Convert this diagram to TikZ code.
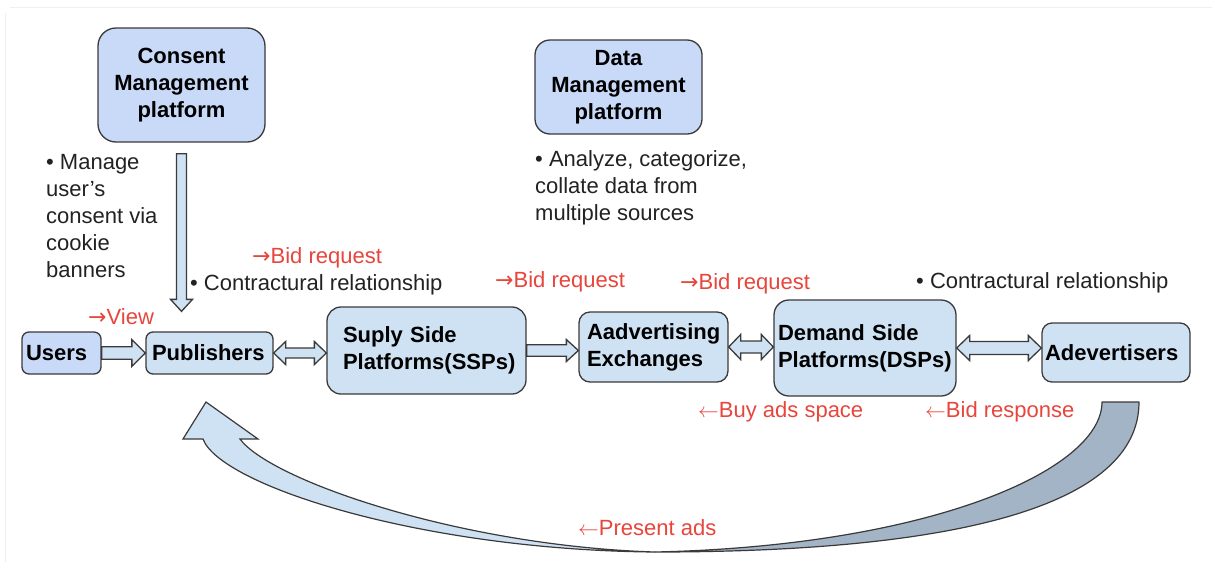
\documentclass[tikz,border=0pt]{standalone}
\usepackage{fontspec}
\setmainfont{Liberation Sans}
\newfontfamily\arrowfont{DejaVu Sans}
\usetikzlibrary{calc}

\definecolor{boxblue}{HTML}{C9DAF8}
\definecolor{paleblue}{HTML}{CFE2F3}
\definecolor{slateblue}{HTML}{A2B4C6}
\definecolor{edge}{HTML}{3A3A3A}
\definecolor{redtxt}{HTML}{E8453C}
\definecolor{ink}{HTML}{222222}
\definecolor{frameline}{HTML}{EFEFEF}

\newcommand\toR{{\arrowfont →}}
\newcommand\toL{$\leftarrow$}

\tikzset{
  box/.style={draw=edge, line width=1.3pt, text=black, align=left,
    font=\bfseries\fontsize{22}{27}\selectfont, inner ysep=0pt},
  blockarrow/.style={draw=edge, fill=paleblue, line width=1.3pt, line join=miter},
  note/.style={font=\fontsize{22}{27}\selectfont, text=ink, inner sep=0pt, align=left},
  redlbl/.style={font=\fontsize{22}{27}\selectfont, text=redtxt, inner sep=0pt},
  curvedark/.style={draw=edge, fill=slateblue, line width=1.2pt, line join=round},
  curvelight/.style={draw=edge, fill=paleblue, line width=1.2pt, line join=miter},
}

% horizontal single-headed block arrow: from, to, shaft half-height, head half-height, head length
\newcommand\blockR[5]{%
  \draw[blockarrow] let \p1=(#1), \p2=(#2) in
    (\x1,\y1+#3) -- (\x2-#5,\y1+#3) -- (\x2-#5,\y1+#4) -- (\x2,\y1)
    -- (\x2-#5,\y1-#4) -- (\x2-#5,\y1-#3) -- (\x1,\y1-#3) -- cycle;}
% horizontal double-headed block arrow
\newcommand\blockLR[5]{%
  \draw[blockarrow] let \p1=(#1), \p2=(#2) in
    (\x1,\y1) -- (\x1+#5,\y1+#4) -- (\x1+#5,\y1+#3) -- (\x2-#5,\y1+#3)
    -- (\x2-#5,\y1+#4) -- (\x2,\y1) -- (\x2-#5,\y1-#4) -- (\x2-#5,\y1-#3)
    -- (\x1+#5,\y1-#3) -- (\x1+#5,\y1-#4) -- cycle;}
% vertical downward block arrow
\newcommand\blockD[5]{%
  \draw[blockarrow] let \p1=(#1), \p2=(#2) in
    (\x1-#3,\y1) -- (\x1-#3,\y2+#5) -- (\x1-#4,\y2+#5) -- (\x1,\y2)
    -- (\x1+#4,\y2+#5) -- (\x1+#3,\y2+#5) -- (\x1+#3,\y1) -- cycle;}

\begin{document}
\begin{tikzpicture}[x=1pt,y=-1pt]
\useasboundingbox[fill=white] (0,0) rectangle (1215,568);
\draw[frameline, line width=1pt] (10,7) -- (1212,7);
\draw[frameline, line width=1pt] (5,13) -- (5,562);

% platforms on top
\node[box, fill=boxblue, rounded corners=18pt, minimum height=114pt,
      text width=155pt, inner xsep=6pt, align=center] (cmp) at (181.5,85)
      {Consent\\Management\\platform};
\node[box, fill=boxblue, rounded corners=15pt, minimum height=94pt,
      text width=155pt, inner xsep=6pt, align=center] (dmp) at (618.5,87)
      {Data\\Management\\platform};

% main chain
\node[box, fill=boxblue, rounded corners=7pt, minimum height=42pt,
      text width=71pt, inner xsep=4pt] (users) at (61.5,353) {Users};
\node[box, fill=paleblue, rounded corners=7pt, minimum height=42pt,
      text width=115pt, inner xsep=6pt] (pub) at (209.5,353) {Publishers};
\node[box, fill=paleblue, rounded corners=14pt, minimum height=87pt,
      text width=167pt, inner xsep=16pt] (ssp) at (426.5,350.5)
      {Suply Side\\Platforms(SSPs)};
\node[box, fill=paleblue, rounded corners=11pt, minimum height=70pt,
      text width=133pt, inner xsep=8pt] (adx) at (653.5,347)
      {Aadvertising\\Exchanges};
\node[box, fill=paleblue, rounded corners=15pt, minimum height=96pt,
      text width=174pt, inner xsep=4pt] (dsp) at (865,348)
      {Demand Side\\Platforms(DSPs)};
\node[box, fill=paleblue, rounded corners=10pt, minimum height=59pt,
      text width=142pt, inner xsep=3pt] (adv) at (1116,352.5) {Adevertisers};

% block connectors
\blockR{users.east}{pub.west}{6.2pt}{13.3pt}{13.5pt}
\blockLR{pub.east}{ssp.west}{5pt}{11.5pt}{12pt}
\blockR{ssp.east}{adx.west}{5.7pt}{11pt}{12pt}
\blockLR{adx.east}{dsp.west}{6pt}{12.5pt}{12pt}
\blockLR{dsp.east}{adv.west}{6.5pt}{12.5pt}{13pt}

\coordinate (cmpout) at ([yshift=-11pt]cmp.south);
\coordinate (pubin) at ($(cmp.south |- pub.north)+(0,-20)$);
\blockD{cmpout}{pubin}{5pt}{11pt}{12pt}

% returning curved arrow (ads delivered back to publishers)
\draw[curvedark] (1102,402) -- (1139,402)
  .. controls (1139,505) and (960,552) .. (655,552)
  .. controls (930,546) and (1102,470) .. (1102,402) -- cycle;
\draw[curvelight] (203,439) .. controls (220,485) and (420,550) .. (655,552)
  .. controls (460,546) and (270,480) .. (240,439)
  -- (258,439) -- (206,402) -- (183,439) -- cycle;

% descriptions
\node[note, anchor=west] (consentnote) at (46,216)
  {• Manage\\user’s\\consent via\\cookie\\banners};
\node[note, anchor=west] (datanote) at (535,188)
  {• Analyze, categorize,\\collate data from\\multiple sources};
\node[note, anchor=west] (contract1) at (190,285) {• Contractural relationship};
\node[note, anchor=west] (contract2) at (916,283) {• Contractural relationship};

% flow labels
\node[redlbl, anchor=west] (view) at (88,317) {\toR View};
\node[redlbl, anchor=west] (bidreq1) at (252,258) {\toR Bid request};
\node[redlbl, anchor=west] (bidreq2) at (495,282) {\toR Bid request};
\node[redlbl, anchor=west] (bidreq3) at (680,284) {\toR Bid request};
\node[redlbl, anchor=west] (buyspace) at (698,412) {\toL Buy ads space};
\node[redlbl, anchor=west] (bidresp) at (925,412) {\toL Bid response};
\node[redlbl, anchor=west] (present) at (578,528) {\toL Present ads};
\end{tikzpicture}
\end{document}
